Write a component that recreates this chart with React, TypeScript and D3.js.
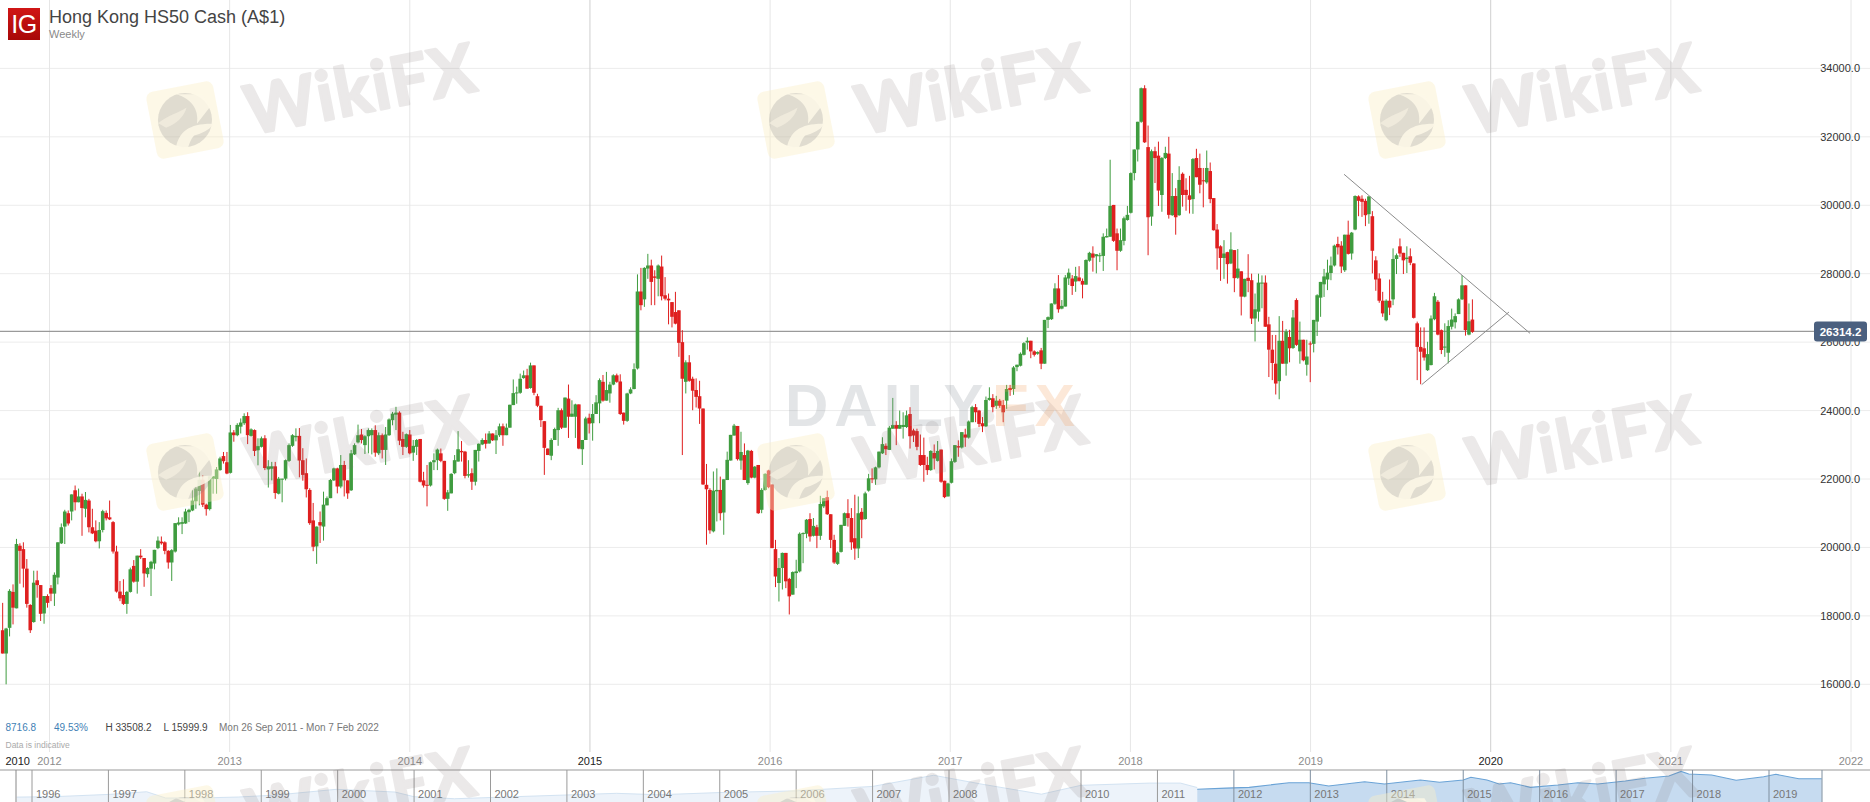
import React from "react";
import * as d3 from "d3";

const W = 1870;
const H = 802;

// Weekly candles: [open, high, low, close]
const candles2011 = [
[17580,18380,16900,16900],[16900,17650,15999,17630],[17650,18780,17400,18730],[18700,18920,17750,18240],
[18220,20250,18220,20100],[20050,20120,18940,19900],[19950,20150,18830,19380],[19380,19660,18240,18350],
[18320,18340,17500,17580],[17820,19320,17800,18970],[19040,19320,18530,18900],[18900,18900,17850,18060],
[18070,18580,17770,18580],[18580,18630,18240,18380],
];
const candles2012 = [
[18810,18900,18430,18650],[18650,19270,18290,19200],[19120,20150,18920,20150],[20120,20700,20100,20590],
[20610,21100,20100,21050],[21000,21080,20640,20700],[21050,21550,20790,21550],[21670,21810,21080,21320],
[21320,21720,21320,21490],[21490,21570,20340,21150],[21130,21620,20880,21390],[21370,21420,20440,20590],
[20590,21130,20390,20410],[20490,20790,20150,20180],[20180,20740,19970,20510],[20510,21100,20440,21060],
[21010,21080,20790,20850],[20880,21370,20800,20820],[20740,20770,19820,19880],[19880,20050,18680,18710],
[18710,19020,18430,18510],[18610,19070,18320,18350],[18350,18730,18060,18700],[18700,19410,18680,19360],
[19460,19630,18970,19000],[19000,19760,18650,19760],[19760,19950,19660,19710],[19690,19690,18850,19240],
[19220,19420,19120,19400],[19380,19610,18580,19580],[19530,19930,19360,19930],[19980,20320,19950,20200],
[20170,20320,20080,20120],[20150,20180,19800,19900],[19900,19920,19380,19560],[19560,19950,19020,19920],
[19880,20710,19850,20710],[20670,20880,20640,20730],[20690,20880,20390,20740],[20700,21130,20690,21050],
[21030,21130,20740,21100],[21080,21670,21060,21370],[21350,21770,21130,21720],[21650,22240,21230,21980],
[21980,22110,21180,21250],[21250,21280,20930,21120],[21120,22080,21080,22080],[22010,22080,21570,22080],
[22000,22350,21570,22280],[22260,22650,22240,22600],[22670,22790,22450,22520],[22490,22790,22140,22160],
];
const candles2013 = [
[22180,23580,22160,23360],[23360,23430,23090,23280],[23280,23630,23250,23580],[23530,23770,23330,23650],
[23630,23920,23580,23840],[23840,23950,23020,23280],[23260,23480,23240,23450],[23430,23450,22670,22820],
[22840,23190,22400,22960],[22940,23240,22920,23190],[23190,23280,22260,22320],[22280,22550,21750,22370],
[22300,22500,21960,22370],[22370,22500,21420,21590],[21570,22060,21550,22010],[21980,22010,21320,22010],
[22010,22570,21960,22550],[22530,23040,22500,22990],[22970,23310,22940,23280],[23220,23480,23100,23260],
[23260,23490,22050,22540],[22550,22900,21950,22120],[22170,22600,21460,21700],[21680,21730,20660,20710],
[20790,21300,19890,20020],[20030,20610,19520,20610],[20740,21050,20130,20640],[20610,21630,20200,21250],
[21230,21490,21230,21440],[21440,22000,21440,21970],[21960,22330,21940,22310],[22310,22330,21580,21780],
[21780,22700,21730,22410],[22410,22530,21490,21960],[21960,21960,21420,21580],[21670,22850,21650,22750],
[22720,23040,22700,22990],[23070,23590,23040,23280],[23300,23460,23040,23140],[22990,23280,22730,23250],
[23250,23480,22750,23430],[23280,23480,22720,23430],[23430,23570,22650,22770],
[22750,23360,22700,23280],[23280,23330,22600,22850],[22850,23520,22410,23300],[23280,23770,23260,23740],
[23720,23960,23570,23910],[23880,24110,23430,23940],[23940,23980,22990,23120],[23170,23380,22700,22940],
[22940,23330,22910,23310],
];
const candles2014 = [
[23300,23430,22720,22750],[22770,23140,22530,22970],[22940,23170,22700,23140],[23170,23170,21900,21920],
[21960,22210,21750,21810],[21830,22410,21200,21810],[21810,22510,21780,22490],[22490,22750,22260,22550],
[22550,22890,22260,22860],[22750,22890,22490,22530],[22530,22530,21390,21420],[21420,21680,21070,21610],
[21580,22170,21580,22150],[22170,22700,22140,22550],[22510,23400,22510,22870],[22820,23110,22510,22780],
[22800,22820,22020,22090],[22100,22550,22040,22140],[22170,22310,21680,21920],[21920,22850,21810,22850],
[22820,23040,22510,23030],[23010,23190,22990,23140],[23140,23330,22890,23030],[23040,23400,23030,23330],
[23330,23330,23110,23130],[23130,23430,22730,23280],[23280,23620,23230,23540],[23540,23620,22970,23280],
[23280,23620,23280,23500],[23500,24170,23500,24170],[24160,24910,24160,24510],[24500,24700,24200,24530],
[24520,25080,24490,24930],[24950,25170,24930,25030],[25030,25220,24640,24640],[24660,25400,24640,25320],
[25320,25320,24450,24520],[24420,24490,24100,24140],[24140,24140,23520,23720],[23690,23690,22120,22910],
[22890,22890,22700,22700],[22680,23190,22550,23140],[23140,23500,23140,23460],[23430,24080,22970,24010],
[24010,24060,23460,23500],[23500,24380,23500,24380],[24350,24760,23200,23820],[23820,24300,23820,23910],
[23820,24200,23200,24180],[24180,24180,22870,22890],[22870,23140,22410,23140],[23140,23820,23140,23770],
];
const candles2015 = [
[23790,23910,23330,23620],[23630,24190,23120,23900],[23900,24450,23900,24240],[24210,24940,23630,24890],
[24840,25040,24260,24290],[24290,25130,24290,24600],[24500,24840,24230,24760],[24760,25060,24740,25030],
[25030,25080,24810,24840],[24850,25060,23870,23900],[23940,23940,23590,23700],[23700,24520,23670,24500],
[24500,24680,24480,24620],[24630,25380,24620,25210],[25230,27980,25200,27480],[27480,28170,26930,27080],
[27250,28190,27030,28170],[28150,28580,27850,28240],[28240,28410,27080,27760],[27920,28100,27080,27880],
[27850,28270,27340,28240],[28210,28530,27220,27340],[27370,27900,27220,27270],[27270,27420,26520,27220],
[27170,27170,26430,26740],[26880,27470,26520,26540],[26930,26930,25570,25980],[26000,26350,22700,24930],
[24840,25470,24500,25410],[25410,25620,24840,24870],[24930,24990,24010,24580],[24600,24940,24090,24400],
[24420,24870,23610,24060],[24060,24060,21830,21840],[21830,22440,20080,21700],[21680,21730,20400,20500],
[20470,22220,20440,21660],[21640,22310,20760,21680],[21680,22070,20790,21000],[21020,21990,20370,21990],
[21970,22800,21970,22560],[22540,23290,22540,23290],[23270,23610,23270,23560],[23550,23550,22540,22580],
[22540,23380,22270,22790],[22700,23040,21970,21970],[21880,22850,21830,22830],[22820,22850,22020,22040],
[22040,22380,22020,22360],[22410,22410,20980,21000],[21100,21730,21000,21680],[21680,22170,21660,22150],
];
const candles2016 = [
[22250,22270,21730,21760],[21840,21840,19980,19980],[19950,20220,18840,19150],[18960,19690,18420,19400],
[19400,19850,18770,19840],[19840,19840,18810,19010],[19080,19110,18040,18570],[18620,19300,18620,19280],
[19250,19640,18810,19300],[19300,20440,19270,20400],[20390,20440,19540,20420],[20400,20830,20270,20810],
[20830,21000,20170,20320],[20340,20860,20320,20630],[20590,20660,19980,20340],[20340,21510,20220,21270],
[21200,21440,21150,21440],[21470,21660,20950,20970],[20970,20970,19980,20220],[20220,20370,19520,19560],
[19520,19880,19490,19850],[19870,20660,19850,20660],[20630,21020,20630,21000],[21000,21410,20610,20860],
[20860,21150,19930,20150],[20270,21540,19640,19970],[19970,21490,19690,21000],[21040,21150,20270,20810],
[20830,21630,20810,21580],[21660,22150,21630,22020],[22020,22310,21880,21990],[21990,22360,21830,22340],
[22340,22800,22310,22800],[22750,23220,22730,23020],[22970,23040,22700,22870],[22850,23550,22850,23500],
[23470,24370,23470,23580],[23580,23690,22990,23470],[23470,24000,23470,23580],[23520,23950,23180,23580],
[23520,24000,23490,23860],[23900,24100,22890,23250],[23420,23470,23080,23270],[23400,23470,22840,22940],
[22700,23300,22380,22410],[22700,23210,21920,22410],[22410,22650,22120,22260],[22260,22840,22240,22820],
[22760,23010,22280,22600],[22530,23110,22510,22820],[22860,22860,21890,21920],[21950,21950,21440,21470],
];
const candles2017 = [
[21490,21890,21490,21870],[21890,22600,21870,22520],[22500,22990,22470,22990],[22960,23130,22650,22920],
[22920,23370,22890,23370],[23300,23470,22940,23210],[23210,23710,23180,23680],[23660,24140,23660,24100],
[24100,24190,23660,23950],[24000,24020,23520,23610],[23630,23810,23370,23540],[23540,24410,23520,24310],
[24310,24680,24290,24370],[24360,24480,23950,24100],[24140,24430,24050,24290],[24290,24340,24080,24140],
[24160,24310,23660,23950],[24290,24750,24050,24630],[24660,24750,24430,24600],[24630,25300,24460,25260],
[25270,25340,25150,25340],[25310,25700,25290,25660],[25630,26000,25610,25970],[25990,26140,25780,26040],
[26040,26040,25530,25730],[25730,25760,25580,25630],[25660,25730,25630,25710],[25760,25830,25210,25370],
[25370,26650,25370,26650],[26650,26750,26410,26730],[26670,27130,26650,27130],[27120,27720,27090,27570],
[27570,27960,26860,26960],[26980,27230,26960,27060],[27040,27960,27040,27890],[27860,28150,27670,28030],
[27860,27960,27380,27640],[27770,28200,27470,27930],[27890,28220,27770,27790],[27790,27860,27280,27680],
[27680,28420,27680,28400],[28380,28640,28350,28610],[28590,28800,28060,28470],[28510,28570,28010,28570],
[28520,28610,28340,28540],[28520,29180,28080,29080],[29060,29320,29060,29100],[29080,31330,29080,29980],
[30010,30010,28930,28960],[29180,29320,28100,28670],[28670,29320,28640,28980],[28960,29670,28830,29620],
[29570,29980,29550,29720],
];
const candles2018 = [
[29780,30960,29760,30940],[30940,31630,30730,31630],[31630,32440,31280,32440],[32440,33440,32410,33420],
[33420,33508,31820,31840],[31700,32330,28540,29650],[29670,31630,29400,31580],[31580,31710,30650,31380],
[31450,31860,29980,30430],[30300,31410,29810,31380],[31380,31710,31350,31530],[31510,32000,29610,29720],
[29710,30940,29690,30270],[30270,30500,29140,29650],[29710,31140,29690,30740],[30920,30960,29960,30300],
[30450,30790,29840,30300],[30290,30860,29760,30160],[30180,31380,29750,31350],[31380,31650,30820,30820],
[31090,31510,30350,30600],[30730,31090,29940,30710],[30670,31600,30630,31090],[31000,31250,30060,30180],
[30210,30210,29260,29270],[29290,29450,28120,28740],[28800,28830,27790,28460],[28460,28980,27850,28590],
[28630,28640,27710,28280],[28300,29210,28280,28710],[28690,28690,27460,27870],[27880,28720,27850,28150],
[28070,28070,26780,27330],[27330,27850,27310,27850],[27880,28570,27460,27790],[27810,28000,26530,26690],
[26690,27420,26020,26960],[26890,28000,26600,27740],[27710,27950,26990,27740],[27740,27950,26450,26450],
[26520,26740,24980,25780],[25780,26210,24890,25390],[25370,26210,24470,24790],[24860,26760,24330,26040],
[26040,26620,25370,25370],[25370,26380,25020,26310],[26150,26360,25410,25820],[25830,26940,25800,26720],
[27230,27280,25890,25920],[25730,26600,25370,26070],[26070,26070,25440,25470],[25340,26070,25020,25580],
];
const candles2019 = [
[25960,26020,24830,25940],[25950,26650,25700,26650],[26600,27400,26180,27370],[27300,27760,26740,27760],
[27690,28140,27320,27920],[27830,28410,27520,28030],[28020,28500,27810,28240],[28240,28850,28210,28820],
[28870,29080,28560,28770],[28820,28950,28020,28210],[28100,29140,28050,29140],[29140,29550,28560,28580],
[28590,29220,28410,29200],[29290,30290,29270,30270],[30260,30290,29680,30130],[30190,30290,29660,30100],
[30130,30190,29390,29710],[29740,30260,29460,30260],[29680,29830,28010,28670],[28390,28510,27500,27830],
[27860,28010,27150,27210],[27210,27470,26740,26840],[26640,27250,26610,27210],[27210,27830,26790,27010],
[27250,28740,27080,28430],[28430,28590,27990,28540],[28800,29030,28490,28590],[28610,28610,27990,28390],
[28430,28800,28020,28470],[28510,28740,28250,28320],[28300,28300,26690,26710],[26550,26600,24890,25860],
[25860,26430,24770,25720],[25820,26430,25460,25550],[25180,26010,25160,25650],[25330,26780,25320,26690],
[26670,27440,26640,27340],[27180,27230,26200,26220],[26350,26370,25650,25770],[25840,26550,25570,25870],
[25690,26640,25380,26470],[26450,26980,26370,26660],[26580,26840,26400,26760],[26820,27280,26820,27250],
[27250,27960,27230,27660],[27660,27660,26190,26350],[26220,27130,26200,26610],[26660,27250,26270,26300],
];
const candles = [...candles2011, ...candles2012, ...candles2013, ...candles2014, ...candles2015, ...candles2016, ...candles2017, ...candles2018, ...candles2019];

const priceTicks = [16000, 18000, 20000, 22000, 24000, 26000, 28000, 30000, 32000, 34000];
const lastPrice = 26314.2;

// [candle index, price]
const trendDown = [[388.8, 30906], [442.7, 26257]];
const trendUp = [[411.3, 24757], [436.6, 26880]];

const timeYears = [2012, 2013, 2014, 2015, 2016, 2017, 2018, 2019, 2020, 2021, 2022];
const majorYears = [2015, 2020];

const navYears = [1996, 1997, 1998, 1999, 2000, 2001, 2002, 2003, 2004, 2005, 2006, 2007, 2008, 2010, 2011, 2012, 2013, 2014, 2015, 2016, 2017, 2018, 2019];
const navFadedX = [1995.8, 1996.3, 1997.03, 1997.5, 1997.75, 1998.17, 1998.7, 1999.2, 1999.98, 2000.75, 2001, 2001.53, 2002.3, 2003.65, 2004.2, 2005, 2006, 2007, 2007.8, 2008.5, 2009.4, 2010, 2010.9, 2011.3, 2011.52];
const navFadedV = [10400, 10800, 12890, 15230, 9560, 9560, 10460, 12270, 17390, 14960, 10730, 8930, 10730, 13790, 12500, 14500, 16000, 20000, 30000, 22000, 13000, 21000, 23000, 23000, 19000];
const navActiveX = [2011.52, 2011.9, 2012.2, 2012.72, 2012.98, 2013.24, 2013.71, 2013.97, 2014.44, 2014.69, 2015, 2015.1, 2015.31, 2015.47, 2015.62, 2015.88, 2016.24, 2016.5, 2016.76, 2017.12, 2017.38, 2017.69, 2017.85, 2017.95, 2018.25, 2018.57, 2018.93, 2019.09, 2019.39, 2019.55, 2019.69];
const navActiveV = [17500, 18500, 19190, 23330, 23330, 20360, 24230, 22160, 25760, 23690, 25760, 28190, 25760, 22160, 23330, 19190, 21260, 23330, 22160, 24860, 27290, 29360, 33500, 31160, 30260, 25490, 28730, 30890, 26930, 26930, 26930];

const x = d3.scaleLinear().domain([0, 426]).range([2.67, 1472.4]);
const y = d3.scaleLinear().domain([16000, 34000]).range([684.3, 68.4]);
const xYear = d3.scaleLinear().domain([2012, 2022]).range([49.5, 1851]);
const xNav = d3.scaleLinear().domain([1996, 2008, 2010, 2019]).range([32, 949, 1081, 1769]);
const yNav = d3.scaleLinear().domain([10500, 33500]).range([797, 771.4]);

const FONT = "'Liberation Sans', Arial, sans-serif";
const RED = "#df1f1f";
const GREEN = "#3f9c3f";
const trendPath = d3.line().x((d: number[]) => x(d[0])).y((d: number[]) => y(d[1]));
const navLine = d3.line().x((d: number[]) => xNav(d[0])).y((d: number[]) => yNav(d[1])).curve(d3.curveLinear);
const navArea = d3.area().x((d: number[]) => xNav(d[0])).y0(802).y1((d: number[]) => yNav(d[1]));
const zip = (a: number[], b: number[]) => a.map((v, i) => [v, b[i]]);

const waterCols = [0, 611, 1222];
const waterRows = [0, 352, 704];

function Watermark({ dx, dy }: { dx: number; dy: number }) {
  return (
    <g transform={`translate(${dx},${dy})`} pointerEvents="none">
      <g transform="translate(185,120) rotate(-11)">
        <rect x={-34} y={-34} width={68} height={68} rx={7} fill="#fbeec6" opacity={0.42} />
        <circle r={27} fill="#7d7d80" opacity={0.22} />
        <path d="M-4,-27 C10,-20 16,-8 11,6 L27,-8 L22,-22 Z" fill="#fdf8e8" opacity={0.85} />
        <path d="M-14,25 C-8,10 4,4 27,9 C22,15 14,16 6,17 C2,20 0,24 -2,27 Z" fill="#fdf8e8" opacity={0.85} />
        <path d="M-27,-2 C-16,-8 -6,-8 4,-12 C0,-4 -8,2 -20,4 Z" fill="#fdf8e8" opacity={0.5} />
      </g>
      <text
        transform="translate(250,135) rotate(-11)"
        fontFamily="'Lato','Liberation Sans',sans-serif"
        fontWeight={700}
        fontSize={68}
        letterSpacing={1.5}
        fill="#7d6f6f"
        stroke="#7d6f6f"
        strokeWidth={2.5}
        strokeLinejoin="round"
        opacity={0.15}
      >
        WikiFX
      </text>
    </g>
  );
}

export default function App() {
  const gridLight = "#ececec";
  return (
    <svg width={W} height={H} viewBox={`0 0 ${W} ${H}`} style={{ position: "fixed", left: 0, top: 0, background: "#fff" }} fontFamily={FONT}>
      <defs>
        <linearGradient id="ig" x1="0" y1="0" x2="0" y2="1">
          <stop offset="0" stopColor="#d01616" />
          <stop offset="1" stopColor="#a80808" />
        </linearGradient>
      </defs>

      {priceTicks.map((t) => (
        <line key={t} x1={0} x2={W} y1={y(t)} y2={y(t)} stroke={gridLight} />
      ))}
      {timeYears.map((t) => (
        <line key={t} x1={xYear(t)} x2={xYear(t)} y1={0} y2={752} stroke={majorYears.includes(t) ? "#cfcfcf" : "#e6e6e6"} />
      ))}

      <line x1={0} x2={1814} y1={y(lastPrice)} y2={y(lastPrice)} stroke="#9a9a9a" strokeWidth={1.2} />

      {candles.map((c, i) => {
        const [o, h, l, cl] = c;
        const col = cl >= o ? GREEN : RED;
        const top = y(Math.max(o, cl));
        const bot = y(Math.min(o, cl));
        return (
          <g key={i}>
            <line x1={x(i)} x2={x(i)} y1={y(h)} y2={y(l)} stroke={col} strokeWidth={1} />
            <rect x={x(i) - 1.8} y={top} width={3.6} height={Math.max(bot - top, 1)} fill={col} />
          </g>
        );
      })}

      <path d={trendPath(trendDown) as string} fill="none" stroke="#8c8c8c" strokeWidth={1} />
      <path d={trendPath(trendUp) as string} fill="none" stroke="#8c8c8c" strokeWidth={1} />

      {priceTicks.map((t) => (
        <text key={t} x={1860} y={y(t) + 4} textAnchor="end" fontSize={11} fill="#333">
          {t.toFixed(1)}
        </text>
      ))}
      <rect x={1814} y={321.5} width={53} height={20} rx={3} fill="#4b607f" />
      <text x={1840.5} y={335.5} textAnchor="middle" fontSize={11.5} fontWeight={700} fill="#fff">
        {lastPrice.toFixed(1)}
      </text>

      <rect x={8} y={8} width={32} height={32} fill="url(#ig)" />
      <text x={24} y={33} textAnchor="middle" fontSize={25} fill="#fff" fontFamily="'Liberation Sans',sans-serif" letterSpacing={-0.5}>
        IG
      </text>
      <text x={49} y={23} fontSize={18} fill="#444">
        Hong Kong HS50 Cash (A$1)
      </text>
      <text x={49} y={38} fontSize={11} fill="#8a8a8a">
        Weekly
      </text>

      <text x={5.5} y={731} fontSize={10} fill="#3f7fb5">8716.8</text>
      <text x={54} y={731} fontSize={10} fill="#3f7fb5">49.53%</text>
      <text x={105.5} y={731} fontSize={10} fill="#444">H 33508.2</text>
      <text x={163.5} y={731} fontSize={10} fill="#444">L 15999.9</text>
      <text x={219} y={731} fontSize={10} fill="#777">Mon 26 Sep 2011 - Mon 7 Feb 2022</text>
      <text x={5.5} y={748} fontSize={8.5} fill="#aaa">Data is indicative</text>

      <text x={5.5} y={765} fontSize={11} fill="#222">2010</text>
      {timeYears.map((t) => (
        <text key={t} x={xYear(t)} y={765} textAnchor="middle" fontSize={11} fill={majorYears.includes(t) ? "#222" : "#8c8c8c"}>
          {t}
        </text>
      ))}

      <path d={navArea(zip(navFadedX, navFadedV) as any) as string} fill="#edf3fa" />
      <path d={navLine(zip(navFadedX, navFadedV) as any) as string} fill="none" stroke="#d3e3f2" />
      <path d={navArea(zip(navActiveX, navActiveV) as any) as string} fill="#c6dbf0" />
      <path d={navLine(zip(navActiveX, navActiveV) as any) as string} fill="none" stroke="#6aa3d6" strokeWidth={1.1} />
      <line x1={0} x2={W} y1={770} y2={770} stroke="#999" />
      <line x1={16} x2={16} y1={770} y2={802} stroke="#888" />
      {navYears.map((t) => (
        <g key={t}>
          <line x1={xNav(t)} x2={xNav(t)} y1={770} y2={802} stroke={t < 2012 ? "#9a9a9a" : "#7f8f9f"} />
          <text x={xNav(t) + 4} y={798} fontSize={11} fill="#777">
            {t}
          </text>
        </g>
      ))}
      <line x1={1822} x2={1822} y1={770} y2={802} stroke="#7f8f9f" />

      {waterRows.map((dy) => waterCols.map((dx) => <Watermark key={`${dx}-${dy}`} dx={dx} dy={dy} />))}

      <g fontFamily="'Liberation Sans',sans-serif" fontWeight={700} fontSize={60}>
        <text x={785} y={426} letterSpacing={6} fill="#8d949c" opacity={0.24}>DAILY</text>
        <text x={992} y={426} letterSpacing={6} fill="#f4a261" opacity={0.24}>FX</text>
      </g>
    </svg>
  );
}
